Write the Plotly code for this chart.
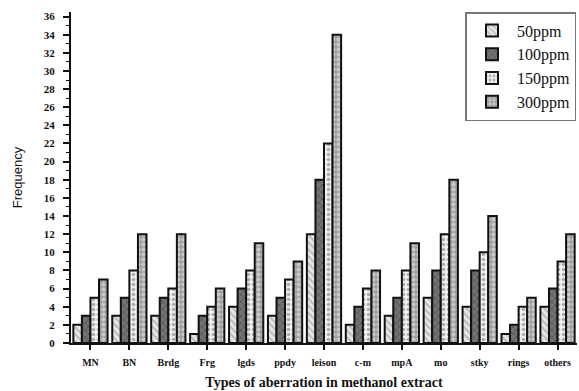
import plotly.graph_objects as go

categories = ["MN", "BN", "Brdg", "Frg", "lgds", "ppdy", "leison", "c-m", "mpA", "mo", "stky", "rings", "others"]
ppm50 = [2, 3, 3, 1, 4, 3, 12, 2, 3, 5, 4, 1, 4]
ppm100 = [3, 5, 5, 3, 6, 5, 18, 4, 5, 8, 8, 2, 6]
ppm150 = [5, 8, 6, 4, 8, 7, 22, 6, 8, 12, 10, 4, 9]
ppm300 = [7, 12, 12, 6, 11, 9, 34, 8, 11, 18, 14, 5, 12]

series = [
    ("50ppm", ppm50, "#e6e6e6", "\\", "#8a8a8a", 0.35),
    ("100ppm", ppm100, "#737373", "x", "#333333", 0.3),
    ("150ppm", ppm150, "#f0f0f0", ".", "#6a6a6a", 0.4),
    ("300ppm", ppm300, "#a0a0a0", ".", "#f2f2f2", 0.45),
]

fig = go.Figure()
for name, vals, bg, shape, fg, sol in series:
    fig.add_bar(
        x=categories, y=vals, name=name,
        marker=dict(
            color=bg,
            line=dict(color="#111111", width=2),
            pattern=dict(shape=shape, fgcolor=fg, bgcolor=bg, size=5, solidity=sol),
        ),
    )

serif = "Liberation Serif"
fig.update_layout(
    width=579, height=391,
    margin=dict(l=71, r=2, t=12, b=48),
    paper_bgcolor="white", plot_bgcolor="white",
    barmode="group", bargap=0.12, bargroupgap=0.0,
    showlegend=True,
    legend=dict(
        x=0.999, y=1.0, xanchor="right", yanchor="top",
        bgcolor="white", bordercolor="#777777", borderwidth=1.5,
        font=dict(family=serif, size=16, color="#111111"),
        tracegroupgap=0, itemsizing="constant", itemwidth=40,
    ),
    xaxis=dict(
        type="category", range=[-0.5, 12.5],
        showline=True, linecolor="#111111", linewidth=2,
        ticks="outside", ticklen=5, tickwidth=1.5, tickcolor="#111111",
        ticklabelstandoff=4,
        tickfont=dict(family=serif, size=10, color="#111111", weight="bold"),
        showgrid=False, zeroline=False,
        minor=dict(ticks="outside", ticklen=4, tickwidth=1.5, tickcolor="#111111"),
        title=dict(text="Types of aberration in methanol extract",
                   font=dict(family=serif, size=14, color="#111111", weight="bold"),
                   standoff=10),
    ),
    yaxis=dict(
        range=[0, 36.5], dtick=2, tick0=0,
        showline=True, linecolor="#111111", linewidth=2,
        ticks="outside", ticklen=6, tickwidth=1.5, tickcolor="#111111",
        ticklabelstandoff=6,
        tickfont=dict(family=serif, size=11, color="#111111", weight="bold"),
        showgrid=False, zeroline=False,
        minor=dict(ticks="outside", ticklen=3, tickwidth=1.2, tickcolor="#111111", dtick=1),
        title=dict(text="Frequency",
                   font=dict(family="Liberation Sans Narrow, Liberation Sans, Arial", size=13, color="#111111"),
                   standoff=18),
    ),
)

fig.write_html("out.html")
